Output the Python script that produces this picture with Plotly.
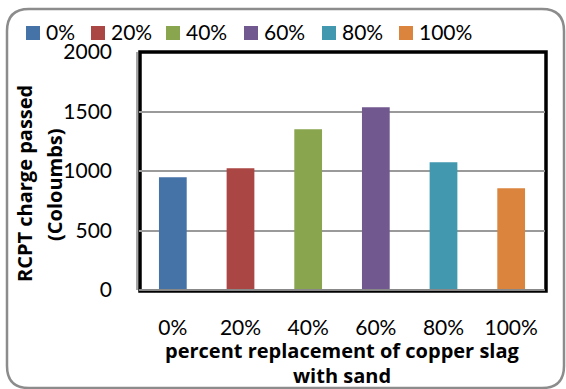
import plotly.graph_objects as go

categories = ["0%", "20%", "40%", "60%", "80%", "100%"]
rcpt_values = [948, 1023, 1351, 1535, 1074, 856]
colors = ["#4572A7", "#AA4643", "#89A54E", "#71588F", "#4198AF", "#DB843D"]
y_ticks = [0, 500, 1000, 1500, 2000]

W, H = 566, 389
L, R, T, B = 139, 545, 52, 290
FONT = "Lato"
TFONT = "Open Sans"
legend_symbol_x = [26, 91, 166, 244, 322, 399]   # pixel layout of legend entries

def px(x):
    return (x - L) / (R - L)

def py(y):
    return (B - y) / (B - T)

fig = go.Figure()
for c, v, col in zip(categories, rcpt_values, colors):
    fig.add_trace(go.Bar(x=[c], y=[v], name=c, marker=dict(color=col, line=dict(width=0)),
                         width=0.41, showlegend=False))

shapes = []
# outer rounded border
x0, x1, y0, y1, r = 7, 564, 9, 388, 22
path = (f"M {px(x0+r)},{py(y0)} L {px(x1-r)},{py(y0)} Q {px(x1)},{py(y0)} {px(x1)},{py(y0+r)} "
        f"L {px(x1)},{py(y1-r)} Q {px(x1)},{py(y1)} {px(x1-r)},{py(y1)} "
        f"L {px(x0+r)},{py(y1)} Q {px(x0)},{py(y1)} {px(x0)},{py(y1-r)} "
        f"L {px(x0)},{py(y0+r)} Q {px(x0)},{py(y0)} {px(x0+r)},{py(y0)} Z")
shapes.append(dict(type="path", xref="paper", yref="paper", path=path,
                   line=dict(color="#8c8c8c", width=2.5), layer="below"))
# plot frame (thick black)
shapes.append(dict(type="rect", xref="paper", yref="paper", x0=px(L+1), x1=px(R+1), y0=py(B+1), y1=py(T),
                   line=dict(color="black", width=3.5), layer="below"))
shapes.append(dict(type="line", xref="paper", yref="paper", x0=px(L-2), x1=px(L-2), y0=py(B), y1=py(T),
                   line=dict(color="#888888", width=1.5)))
shapes.append(dict(type="line", xref="paper", yref="paper", x0=px(L), x1=px(R), y0=0, y1=0,
                   line=dict(color="#888888", width=2)))

annotations = []
# legend (manual, to match spacing)
for sx, c, col in zip(legend_symbol_x, categories, colors):
    shapes.append(dict(type="rect", xref="paper", yref="paper",
                       x0=px(sx), x1=px(sx + 14), y0=py(40), y1=py(26),
                       fillcolor=col, line=dict(width=0)))
    annotations.append(dict(text=c, xref="paper", yref="paper", x=px(sx + 18), y=py(31),
                            xanchor="left", yanchor="middle", showarrow=False,
                            font=dict(family=FONT, size=21)))

annotations += [
    dict(text="<b>RCPT charge passed</b>", xref="paper", yref="paper", x=px(24), y=py(184),
         xanchor="center", yanchor="middle",
         showarrow=False, textangle=-90, font=dict(family=TFONT, size=20)),
    dict(text="<b>(Coloumbs)</b>", xref="paper", yref="paper", x=px(54), y=py(185),
         xanchor="center", yanchor="middle",
         showarrow=False, textangle=-90, font=dict(family=TFONT, size=20)),
    dict(text="<b>percent replacement of copper slag</b>", xref="paper", yref="paper",
         x=px(342), y=py(350), xanchor="center", yanchor="middle",
         showarrow=False, font=dict(family=TFONT, size=20)),
    dict(text="<b>with sand</b>", xref="paper", yref="paper",
         x=px(342), y=py(375), xanchor="center", yanchor="middle",
         showarrow=False, font=dict(family=TFONT, size=20)),
]

fig.update_layout(
    width=W, height=H,
    margin=dict(l=L, r=W - R, t=T, b=H - B),
    paper_bgcolor="white", plot_bgcolor="white",
    barmode="overlay",
    font=dict(family=FONT, size=22, color="black"),
    showlegend=False,
    xaxis=dict(type="category", categoryorder="array", categoryarray=categories,
               showgrid=False, showline=False, ticks="", ticklabelstandoff=23,
               tickfont=dict(family=FONT, size=21)),
    yaxis=dict(range=[0, 2000], tickvals=y_ticks, showgrid=True, gridcolor="#9a9a9a", gridwidth=2,
               zeroline=False, showline=False, ticks="", ticklabelstandoff=26,
               tickfont=dict(family=FONT, size=21)),
    shapes=shapes,
    annotations=annotations,
)

fig.write_html("out.html")
